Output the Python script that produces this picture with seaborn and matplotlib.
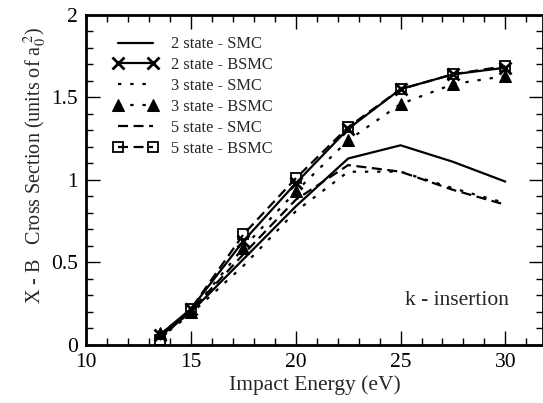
import matplotlib
matplotlib.use("Agg")
import matplotlib.pyplot as plt
from matplotlib.ticker import MultipleLocator
import seaborn as sns
import pandas as pd

# impact energies (eV)
energy = [13.5, 15, 17.5, 20, 22.5, 25, 27.5, 30]

# cross sections (units of a0^2)
smc_2state = [0.05, 0.20, 0.52, 0.84, 1.13, 1.21, 1.11, 0.99]
bsmc_2state = [0.06, 0.22, 0.63, 0.98, 1.31, 1.55, 1.64, 1.68]
smc_3state = [0.04, 0.19, 0.48, 0.81, 1.05, 1.05, 0.95, 0.86]
bsmc_3state = [0.07, 0.20, 0.59, 0.93, 1.24, 1.46, 1.58, 1.63]
smc_5state = [0.05, 0.21, 0.55, 0.88, 1.09, 1.05, 0.94, 0.85]
bsmc_5state = [0.03, 0.22, 0.67, 1.01, 1.32, 1.55, 1.64, 1.69]

labels = ["2 state - SMC", "2 state - BSMC", "3 state - SMC",
          "3 state - BSMC", "5 state - SMC", "5 state - BSMC"]

sns.set_style("ticks")
plt.rcParams["font.family"] = ["Liberation Serif", "DejaVu Serif"]
plt.rcParams["mathtext.fontset"] = "stix"

fig, ax = plt.subplots(figsize=(5.43, 4.03), dpi=100)

dots = (0, (1.5, 4.0))
dashes = (0, (4.5, 2.5))
styles = [
    dict(linestyle="-", marker=None),
    dict(linestyle="-", marker="x", markersize=9, markeredgewidth=2),
    dict(linestyle=dots, marker=None),
    dict(linestyle=dots, marker="^", markersize=8.5, mfc="black"),
    dict(linestyle=dashes, marker=None),
    dict(linestyle=dashes, marker="s", markersize=7, mfc="none", markeredgewidth=1.3),
]
series = [smc_2state, bsmc_2state, smc_3state, bsmc_3state, smc_5state, bsmc_5state]

for vals, lab, st in zip(series, labels, styles):
    df = pd.DataFrame({"E": energy, "sigma": vals})
    sns.lineplot(data=df, x="E", y="sigma", ax=ax, color="black", linewidth=1.6,
                 label=lab, markeredgecolor="black", **st)

ax.set_xlim(10, 31.8)
ax.set_ylim(0, 2)
ax.xaxis.set_major_locator(MultipleLocator(5))
ax.xaxis.set_minor_locator(MultipleLocator(1))
ax.yaxis.set_minor_locator(MultipleLocator(0.1))
ax.set_yticks([0, 0.5, 1, 1.5, 2])
ax.set_yticklabels(["0", "0.5", "1", "1.5", "2"])
ax.tick_params(which="both", direction="in", top=True, right=True,
               labelsize=15.5, width=1, colors="black")
ax.tick_params(which="major", length=10, pad=6)
ax.tick_params(which="minor", length=5)
for s in ax.spines.values():
    s.set_linewidth(2)
    s.set_color("black")

ax.set_xlabel("Impact Energy (eV)", fontsize=15.5, labelpad=2)
ax.set_ylabel(r"X - B   Cross Section (units of a$_0^{\ 2}$)", fontsize=14.5)
ax.yaxis.set_label_coords(-0.082, 0.545)

ax.text(27.7, 0.27, "k - insertion", fontsize=15.5, ha="center", va="center")

leg = ax.legend(loc="upper left", frameon=False,
                fontsize=11.8, handlelength=2.7, labelspacing=0.3, numpoints=2,
                handletextpad=0.8, borderaxespad=0.0,
                bbox_to_anchor=(0.045, 0.955))

fig.subplots_adjust(left=0.159, right=1.0, top=0.963, bottom=0.144)
fig.savefig("out.png", dpi=100)
